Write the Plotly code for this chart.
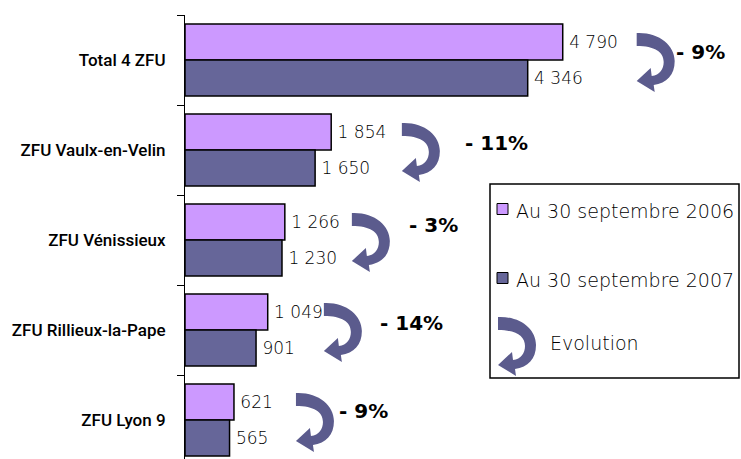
import plotly.graph_objects as go

# ---- data ----
categories = ["Total 4 ZFU", "ZFU Vaulx-en-Velin", "ZFU Vénissieux",
              "ZFU Rillieux-la-Pape", "ZFU Lyon 9"]
values_2006 = [4790, 1854, 1266, 1049, 621]
values_2007 = [4346, 1650, 1230, 901, 565]
evolution_labels = ["- 9%", "- 11%", "- 3%", "- 14%", "- 9%"]
series_names = ["Au 30 septembre 2006", "Au 30 septembre 2007"]
legend_evolution = "Evolution"

# ---- layout parameters (decoration placement, in axis units / pixels) ----
arrow_x = [5728, 2750, 2116, 1761, 1407]
pct_x = [6539, 3954, 3155, 2877, 2268]
pct_dy = [8, 7, 15, 7, 9]

C2006 = "#CC99FF"
C2007 = "#666699"
ARROW = "#5B5B8D"

W, H = 741, 459
ML, MR, MT, MB = 185, 4, 15, 0
PW, PH = W - ML - MR, H - MT - MB


def fmt(v):
    return "\u2009" + f"{v:,}".replace(",", " ")


def px2paper_x(px):
    return (px - ML) / PW


def px2paper_y(py):
    return (H - MB - py) / PH


# arrow outline, y measured downward from the arrow's top; anchor is 27px below top
ARROW_PTS = [
    ("M", [(0, 0)]),
    ("C", [(22, -1), (38, 12), (38, 28)]),
    ("C", [(38, 42), (30, 50), (17, 52)]),
    ("L", [(18, 59)]),
    ("L", [(0, 48)]),
    ("L", [(14, 35)]),
    ("L", [(15, 43)]),
    ("C", [(23, 42), (27, 36), (27, 29)]),
    ("C", [(27, 19), (18, 13), (0, 13)]),
]


def arrow_path(top_off=27):
    parts = []
    for cmd, pts in ARROW_PTS:
        coords = " ".join(f"{x},{top_off - y}" for x, y in pts)
        parts.append(f"{cmd}{coords}")
    return " ".join(parts) + " Z"


LABEL_FONT = "DejaVu Sans"

fig = go.Figure()
fig.add_trace(go.Bar(
    y=categories, x=values_2006, orientation="h", name=series_names[0],
    marker=dict(color=C2006, line=dict(color="#000000", width=1.5)),
    text=[fmt(v) for v in values_2006], textposition="outside",
    textfont=dict(family=LABEL_FONT, size=17, color="#000000", weight=200),
    cliponaxis=False, showlegend=False, hoverinfo="skip",
))
fig.add_trace(go.Bar(
    y=categories, x=values_2007, orientation="h", name=series_names[1],
    marker=dict(color=C2007, line=dict(color="#000000", width=1.5)),
    text=[fmt(v) for v in values_2007], textposition="outside",
    textfont=dict(family=LABEL_FONT, size=17, color="#000000", weight=200),
    cliponaxis=False, showlegend=False, hoverinfo="skip",
))

shapes = []
annotations = []
for i, cat in enumerate(categories):
    shapes.append(dict(
        type="path", xref="x", yref="y", xsizemode="pixel", ysizemode="pixel",
        xanchor=arrow_x[i], yanchor=cat, path=arrow_path(),
        fillcolor=ARROW, line=dict(width=0), layer="above",
    ))
    annotations.append(dict(
        x=pct_x[i], y=cat, xref="x", yref="y", text=f"<b>{evolution_labels[i]}</b>",
        showarrow=False, yshift=pct_dy[i],
        font=dict(family="DejaVu Sans", size=20, color="#000000"),
    ))

# legend box
shapes.append(dict(type="rect", xref="paper", yref="paper",
                   x0=px2paper_x(490), x1=px2paper_x(739),
                   y0=px2paper_y(378), y1=px2paper_y(184),
                   line=dict(color="#000000", width=1.5), fillcolor="white", layer="below"))
for (cy, col, name) in [(209, C2006, series_names[0]), (278, C2007, series_names[1])]:
    shapes.append(dict(type="rect", xref="paper", yref="paper",
                       x0=px2paper_x(497), x1=px2paper_x(508),
                       y0=px2paper_y(cy + 5.5), y1=px2paper_y(cy - 5.5),
                       line=dict(color="#000000", width=1), fillcolor=col))
    annotations.append(dict(x=px2paper_x(514), y=px2paper_y(cy + 2), xref="paper", yref="paper",
                            xanchor="left", yanchor="middle", showarrow=False, text=name,
                            font=dict(family=LABEL_FONT, size=19, color="#000000", weight=200)))
shapes.append(dict(type="path", xref="paper", yref="paper", xsizemode="pixel", ysizemode="pixel",
                   xanchor=px2paper_x(498), yanchor=px2paper_y(344), path=arrow_path(),
                   fillcolor=ARROW, line=dict(width=0)))
annotations.append(dict(x=px2paper_x(548), y=px2paper_y(343), xref="paper", yref="paper",
                        xanchor="left", yanchor="middle", showarrow=False, text=legend_evolution,
                        font=dict(family=LABEL_FONT, size=19, color="#000000", weight=200)))

fig.update_layout(
    width=W, height=H, margin=dict(l=ML, r=MR, t=MT, b=MB, pad=0, autoexpand=False),
    paper_bgcolor="white", plot_bgcolor="white",
    barmode="group", bargap=0.2, bargroupgap=0,
    xaxis=dict(range=[0, 7000], visible=False, fixedrange=True),
    yaxis=dict(type="category", categoryorder="array", categoryarray=categories,
               range=[-0.5 + PH / 90.0, -0.5], automargin=False, fixedrange=True,
               showline=True, linecolor="#000000", linewidth=1,
               ticks="outside", tickson="boundaries", ticklen=7, tickcolor="#000000",
               showgrid=False, zeroline=False, ticklabelstandoff=15,
               tickfont=dict(family="Roboto", size=17, color="#000000", weight=500)),
    shapes=shapes, annotations=annotations,
)

fig.write_html("out.html", config={"displayModeBar": False},
               post_script="document.body.style.margin='0';")
